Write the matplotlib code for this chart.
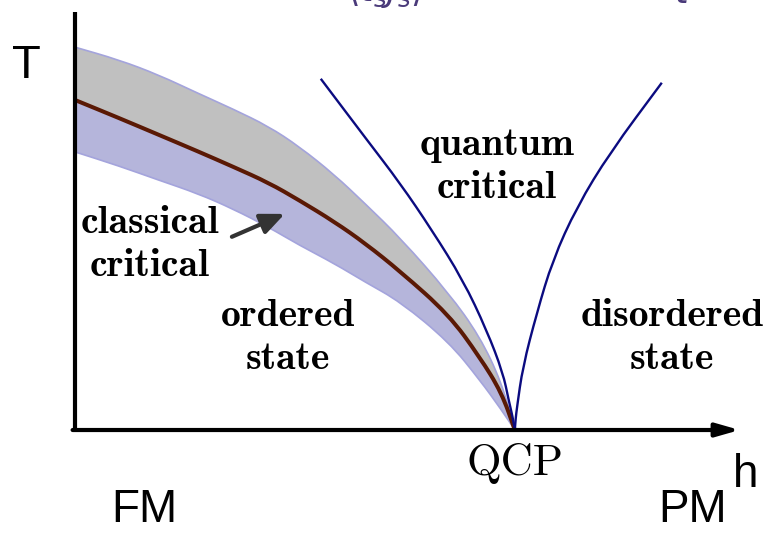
import matplotlib.pyplot as plt
from matplotlib.path import Path
from matplotlib.patches import PathPatch

# phase boundary with its classical critical band (h in units of h_c)
h_band = [0, 0.10, 0.19, 0.28, 0.36, 0.44, 0.51, 0.59, 0.66, 0.74, 0.85, 0.92, 0.97, 1.0]
T_c = [0.75, 0.709, 0.671, 0.633, 0.598, 0.562, 0.522, 0.473, 0.424, 0.360, 0.262, 0.166, 0.085, 0]
T_band_hi = [0.870, 0.841, 0.807, 0.765, 0.729, 0.690, 0.644, 0.580, 0.514, 0.436, 0.311, 0.213, 0.108, 0]
T_band_lo = [0.632, 0.600, 0.568, 0.537, 0.502, 0.461, 0.420, 0.378, 0.336, 0.291, 0.200, 0.114, 0.045, 0]

# crossover lines bounding the quantum critical fan
h_left = [0.559, 0.664, 0.739, 0.811, 0.882, 0.936, 0.973, 0.986, 0.995, 1.0]
T_left = [0.798, 0.659, 0.561, 0.455, 0.341, 0.227, 0.130, 0.068, 0.030, 0]
h_right = [1.0, 1.002, 1.005, 1.018, 1.05, 1.086, 1.141, 1.216, 1.334]
T_right = [0, 0.027, 0.052, 0.143, 0.266, 0.386, 0.507, 0.630, 0.789]

h_max = 1.511
T_max = 0.95

gray = '#c0c0c0'
lilac = '#b5b5db'
edge = '#a4a4dc'
brown = '#5a1905'
navy = '#0b0b80'


def smooth(xs, ys):
    # quadratic bezier through the midpoints, using the points as controls
    pts = list(zip(xs, ys))
    mid = lambda a, b: ((a[0] + b[0]) / 2, (a[1] + b[1]) / 2)
    verts = [pts[0], mid(pts[0], pts[1])]
    codes = [Path.MOVETO, Path.LINETO]
    for i in range(1, len(pts) - 1):
        verts += [pts[i], mid(pts[i], pts[i + 1])]
        codes += [Path.CURVE3, Path.CURVE3]
    verts.append(pts[-1])
    codes.append(Path.LINETO)
    return verts, codes


def curve(xs, ys):
    v, c = smooth(xs, ys)
    return Path(v, c)


def region(xs, y_top, y_bot):
    v1, c1 = smooth(xs, y_top)
    v2, c2 = smooth(xs[::-1], y_bot[::-1])
    c2[0] = Path.LINETO
    return Path(v1 + v2 + [v1[0]], c1 + c2 + [Path.CLOSEPOLY])


fig = plt.figure(figsize=(7.63, 5.33), dpi=100)
ax = fig.add_axes([0, 0, 1, 1])
ax.set_xlim(-0.17, 1.564)
ax.set_ylim(-0.234, 0.977)
ax.axis('off')

ax.add_patch(PathPatch(region(h_band, T_band_hi, T_c), facecolor=gray, lw=0))
ax.add_patch(PathPatch(region(h_band, T_c, T_band_lo), facecolor=lilac, lw=0))
ax.add_patch(PathPatch(curve(h_band, T_band_hi), fill=False, edgecolor=edge, lw=1.2))
ax.add_patch(PathPatch(curve(h_band, T_band_lo), fill=False, edgecolor=edge, lw=1.2))
ax.add_patch(PathPatch(curve(h_band, T_c), fill=False, edgecolor=brown, lw=2.9,
                       capstyle='butt'))

ax.add_patch(PathPatch(curve(h_left, T_left), fill=False, edgecolor=navy, lw=1.7))
ax.add_patch(PathPatch(curve(h_right, T_right), fill=False, edgecolor=navy, lw=1.7))

# axes
ax.plot([0, 0], [0, T_max], color='black', lw=3, solid_capstyle='butt')
ax.annotate('', xy=(h_max, 0), xytext=(-0.005, 0),
            arrowprops=dict(arrowstyle='-|>,head_length=0.7,head_width=0.2',
                            mutation_scale=20, color='black', lw=3,
                            shrinkA=0, shrinkB=0))

sans = 'Liberation Sans'
ax.text(-0.11, 0.827, 'T', fontsize=34, family=sans, ha='center', va='center')
ax.text(1.525, -0.102, 'h', fontsize=33, family=sans, ha='center', va='center')
ax.text(0.157, -0.182, 'FM', fontsize=33, family=sans, ha='center', va='center')
ax.text(1.405, -0.182, 'PM', fontsize=33, family=sans, ha='center', va='center')

ax.text(1.0, -0.075, 'QCP', fontsize=32, family='cmr10', ha='center', va='center')

lab = dict(fontsize=28.5, family='cmb10', ha='center', va='center', linespacing=1.3)
ax.text(0.959, 0.598, 'quantum\ncritical', **lab)
ax.text(0.484, 0.209, 'ordered\nstate', **lab)
ax.text(1.357, 0.209, 'disordered\nstate', **lab)
ax.text(0.17, 0.42, 'classical\ncritical', **lab)

ax.annotate('', xy=(0.477, 0.491), xytext=(0.357, 0.439),
            arrowprops=dict(arrowstyle='-|>,head_length=0.8,head_width=0.35',
                            mutation_scale=18, color='#333333', lw=3,
                            shrinkA=0, shrinkB=0))

# formula running off the top edge
ax.text(0.705, 0.955, r'$\langle t_s J_s \rangle$', fontsize=25, color='#4a3a7a',
        ha='center', va='bottom')
ax.text(1.38, 0.955, r'$t$', fontsize=25, color='#4a3a7a', ha='center', va='bottom')

fig.savefig('out.png', dpi=100)
